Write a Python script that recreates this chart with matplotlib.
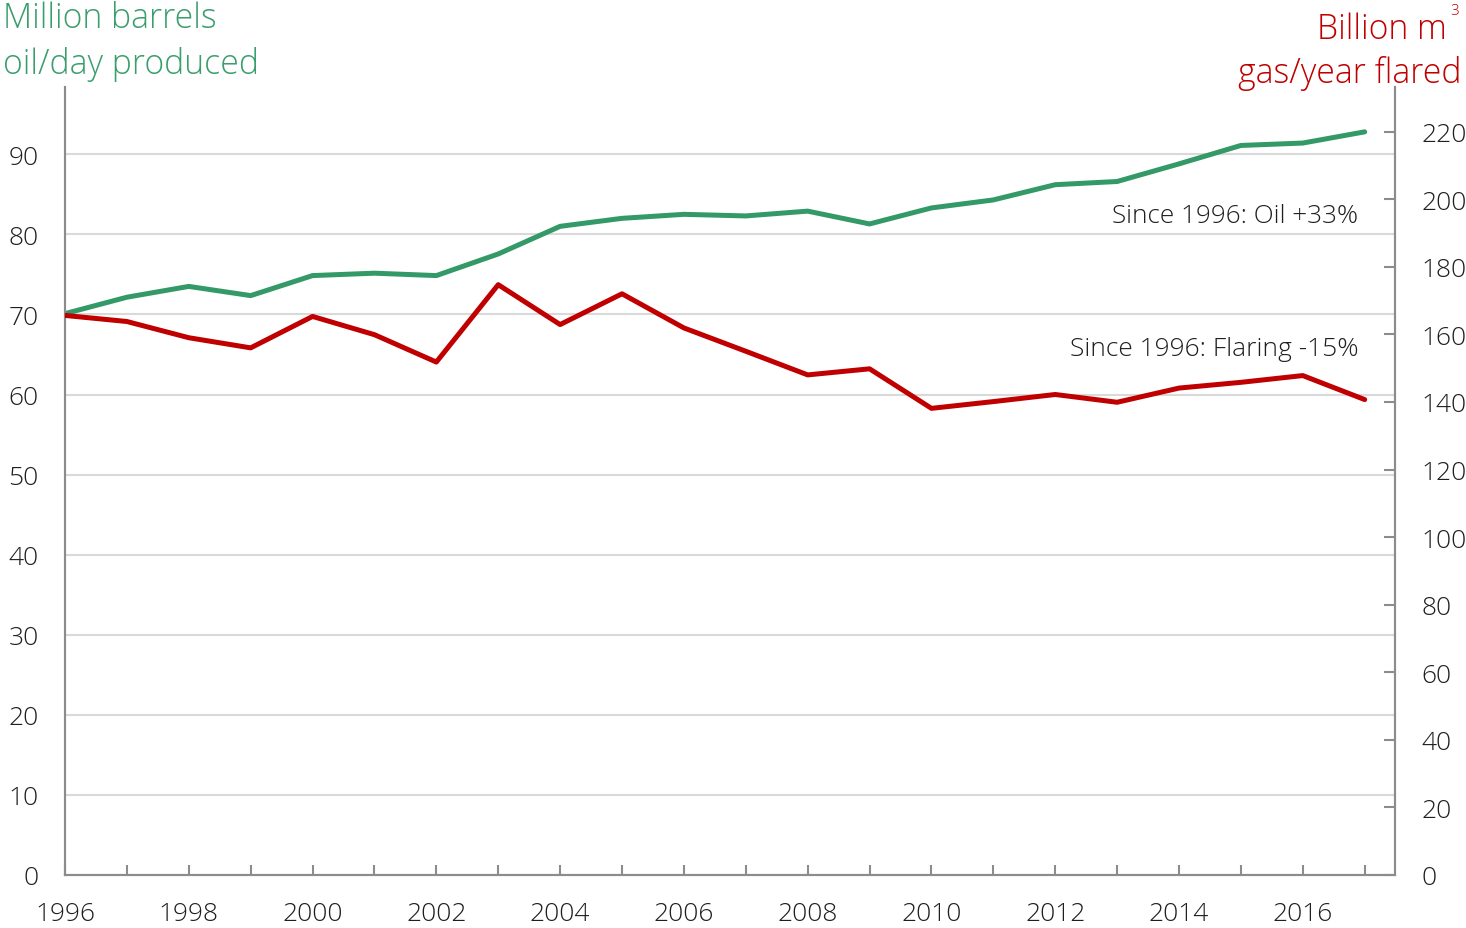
import matplotlib
matplotlib.use("Agg")
import matplotlib.pyplot as plt

years = list(range(1996, 2018))
oil_mbd = [70.1, 72.15, 73.5, 72.35, 74.85, 75.15, 74.85, 77.55, 81.0, 82.0, 82.5,
           82.3, 82.9, 81.3, 83.3, 84.3, 86.2, 86.6, 88.8, 91.1, 91.4, 92.8]
flaring_bcm = [165.6, 163.8, 159.0, 156.0, 165.3, 159.9, 151.8, 174.7, 162.9, 172.0, 161.9,
               155.0, 148.0, 149.8, 138.1, 140.1, 142.2, 139.9, 144.1, 145.8, 147.8, 140.7]
left_ticks = [0, 10, 20, 30, 40, 50, 60, 70, 80, 90]
right_ticks = [0, 20, 40, 60, 80, 100, 120, 140, 160, 180, 200, 220]
year_labels = [str(y) if (y - 1996) % 2 == 0 else "" for y in years]

GREEN = "#339966"
GREEN_TXT = "#3A9E6C"
RED = "#C00000"
SPINE = "#8C8C8C"
GRID = "#D9D9D9"
TXT = "#1F1F1F"

plt.rcParams['font.family'] = ['Open Sans', 'DejaVu Sans']
plt.rcParams['font.weight'] = 'light'

fig = plt.figure(figsize=(14.66, 9.29), dpi=100)
ax = fig.add_axes([65/1466, 1-876/929, 1330/1466, 788/929])
ax2 = ax.twinx()

ax.set_xlim(1996, 2017.49)
ax.set_ylim(0, 98.4)
ax2.set_ylim(0, 233.2)

ax.set_yticks(left_ticks)
ax.yaxis.grid(True, color=GRID, lw=1.5)
ax.set_axisbelow(True)
ax.set_xticks(years)
ax.set_xticklabels(year_labels)
ax2.set_yticks(right_ticks)

ax.plot(years, oil_mbd, color=GREEN, lw=3.6, solid_capstyle='round', zorder=3)
ax2.plot(years, flaring_bcm, color=RED, lw=3.6, solid_capstyle='round', zorder=3)

for a in (ax, ax2):
    a.spines['top'].set_visible(False)
    for s in ('left', 'right', 'bottom'):
        a.spines[s].set_color(SPINE)
        a.spines[s].set_linewidth(1.5)

ax.tick_params(axis='y', length=0, pad=19, labelsize=19, labelcolor=TXT)
ax.tick_params(axis='x', direction='in', length=7, width=1.5, color=SPINE,
               pad=19, labelsize=19, labelcolor=TXT)
ax2.tick_params(axis='y', direction='in', length=8, width=1.5, color=SPINE,
                pad=19, labelsize=19, labelcolor=TXT)

ax.text(0.972, 0.837, "Since 1996: Oil +33%", transform=ax.transAxes,
        ha='right', va='center', fontsize=18.8, color=TXT)
ax.text(0.973, 0.668, "Since 1996: Flaring -15%", transform=ax.transAxes,
        ha='right', va='center', fontsize=19, color=TXT)

fig.text(3/1466, 1-28.5/929, "Million barrels", ha='left', va='baseline',
         fontsize=24.3, color=GREEN_TXT)
fig.text(3/1466, 1-74/929, "oil/day produced", ha='left', va='baseline',
         fontsize=24.3, color=GREEN_TXT)
fig.text(1447/1466, 1-39/929, "Billion m", ha='right', va='baseline',
         fontsize=24.3, color=RED)
fig.text(1450/1466, 1-15/929, "3", ha='left', va='baseline',
         fontsize=11, color=RED)
fig.text(1461/1466, 1-83/929, "gas/year flared", ha='right', va='baseline',
         fontsize=24.3, color=RED)

fig.savefig("out.png", dpi=100)
